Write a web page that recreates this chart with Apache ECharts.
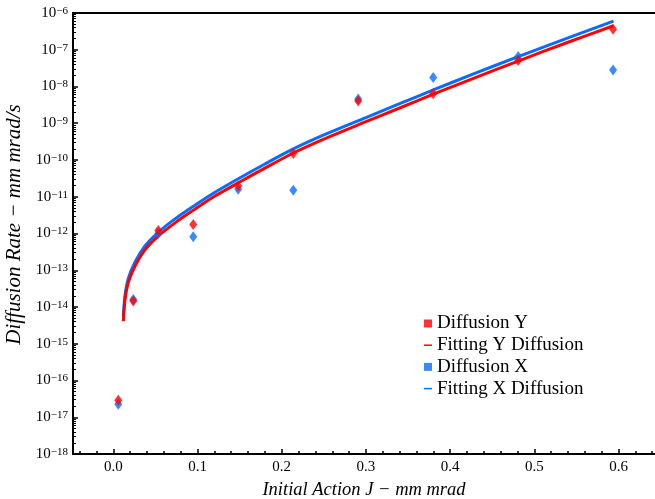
<!DOCTYPE html>
<html><head><meta charset="utf-8">
<script src="https://cdn.jsdelivr.net/npm/echarts@6/dist/echarts.min.js"></script>
<style>html,body{margin:0;padding:0;background:#fff}#c{width:655px;height:499px}</style>
</head><body><div id="c"></div>
<script>
// ---- data ----
const scatterJ   = [0.0059, 0.0237, 0.0534, 0.0949, 0.1483, 0.2137, 0.2908, 0.3799, 0.4808, 0.5935];
const diffusionY = [2.9e-17, 1.45e-14, 1.2e-12, 1.75e-12, 1.95e-11, 1.5e-10, 4.0e-9, 6.3e-9, 5.1e-8, 3.6e-7];
const diffusionX = [2.25e-17, 1.6e-14, 1.0e-12, 8.1e-13, 1.6e-11, 1.5e-11, 4.6e-9, 1.76e-8, 6.6e-8, 2.8e-8];

const fitJ     = [0.0119, 0.0139, 0.0178, 0.0258, 0.0376, 0.0534, 0.0733, 0.097, 0.1188, 0.1485, 0.18, 0.2138, 0.25, 0.30, 0.34, 0.38, 0.43, 0.48, 0.54, 0.594];
const fittingY = [4.1e-15, 1.6e-14, 4.6e-14, 1.3e-13, 3.6e-13, 8.5e-13, 1.95e-12, 4.6e-12, 9.8e-12, 2.4e-11, 6.0e-11, 1.55e-10, 3.7e-10, 1.1e-9, 2.6e-9, 6.2e-9, 1.75e-8, 4.85e-8, 1.6e-7, 4.5e-7];
const fittingX = [5.6e-15, 2.1e-14, 6.0e-14, 1.68e-13, 4.6e-13, 1.08e-12, 2.5e-12, 5.9e-12, 1.25e-11, 3.1e-11, 7.8e-11, 2.0e-10, 4.8e-10, 1.43e-9, 3.4e-9, 8.1e-9, 2.3e-8, 6.4e-8, 2.1e-7, 6.0e-7];

const xTickLabels = ['0.0', '0.1', '0.2', '0.3', '0.4', '0.5', '0.6'];
const legendNames = ['Diffusion Y', 'Fitting Y Diffusion', 'Diffusion X', 'Fitting X Diffusion'];

// ---- layout ----
const W = 655;
const FONT = 'Liberation Serif';
const RED = '#ff0000', BLUE = '#0a6cff';
const gridLeft = 73, gridRight = 0, gridTop = 13, gridBottom = 45;
const xMin = -0.0479, xMax = 0.6433;
const pxPer = (W - gridLeft - gridRight) / (xMax - xMin);
const px = j => gridLeft + (j - xMin) * pxPer;
const legendTop = 314, legendRow = 21.7, legendText = 19;

const pairs = (xs, ys) => xs.map((x, i) => [x, ys[i]]);
const gridBox = (l, r) => ({left: l, right: r, top: gridTop, bottom: gridBottom, outerBoundsMode: 'none', containLabel: false});

const chart = echarts.init(document.getElementById('c'), null, {renderer: 'canvas'});
const option = {
  animation: false,
  backgroundColor: '#fff',
  grid: [
    gridBox(gridLeft, gridRight),
    gridBox(px(0), W - px(0.6)),
    gridBox(px(-0.04), W - px(0.64))
  ],
  legend: [
    {orient: 'vertical', left: 424, top: legendTop, padding: 0,
     itemGap: 2 * legendRow - legendText, itemWidth: 8, itemHeight: 8, icon: 'rect',
     textStyle: {fontFamily: FONT, fontSize: legendText, lineHeight: legendText, color: '#000'},
     data: [legendNames[0], legendNames[2]]},
    {orient: 'vertical', left: 424, top: legendTop + legendRow, padding: 0,
     itemGap: 2 * legendRow - legendText, itemWidth: 8, itemHeight: 1.5, icon: 'rect',
     textStyle: {fontFamily: FONT, fontSize: legendText, lineHeight: legendText, color: '#000'},
     data: [legendNames[1], legendNames[3]]}
  ],
  xAxis: [
    {gridIndex: 0, type: 'value', min: xMin, max: xMax, position: 'bottom',
     axisLine: {onZero: false, lineStyle: {color: '#000', width: 2}},
     axisTick: {show: false}, axisLabel: {show: false}, splitLine: {show: false},
     name: 'Initial Action J \u2212 mm mrad', nameLocation: 'middle', nameGap: 27,
     nameTextStyle: {fontFamily: FONT, fontSize: 18.5, fontStyle: 'italic', color: '#000'}},
    {gridIndex: 0, type: 'value', min: xMin, max: xMax, position: 'top',
     axisLine: {onZero: false, lineStyle: {color: '#000', width: 2}},
     axisTick: {show: false}, axisLabel: {show: false}, splitLine: {show: false}},
    {gridIndex: 1, type: 'value', min: 0, max: 0.6, interval: 0.1, position: 'bottom',
     axisLine: {show: false, onZero: false},
     axisTick: {inside: true, length: 5, lineStyle: {color: '#000', width: 1.5}},
     axisLabel: {fontFamily: FONT, fontSize: 15, color: '#000', margin: 6,
                 formatter: v => xTickLabels[Math.round(v * 10)]},
     splitLine: {show: false}},
    {gridIndex: 2, type: 'value', min: -0.04, max: 0.64, interval: 0.02, position: 'bottom',
     axisLine: {show: false, onZero: false},
     axisTick: {inside: true, length: 3, lineStyle: {color: '#000', width: 1.5}},
     axisLabel: {show: false}, splitLine: {show: false}}
  ],
  yAxis: [
    {gridIndex: 0, type: 'log', logBase: 10, min: 1e-18, max: 1e-6, interval: 1, splitNumber: 12,
     position: 'left',
     axisLine: {show: true, onZero: false, lineStyle: {color: '#000', width: 2}},
     axisTick: {inside: true, length: 5, lineStyle: {color: '#000', width: 1.5}},
     minorTick: {show: true, splitNumber: 9, length: 3, lineStyle: {color: '#000', width: 1}},
     splitLine: {show: false}, minorSplitLine: {show: false},
     axisLabel: {
       margin: 5, color: '#000',
       formatter: v => '{b|10}{s|\u2212' + Math.abs(Math.round(Math.log10(v))) + '}',
       rich: {
         b: {fontFamily: FONT, fontSize: 15, lineHeight: 15, padding: [6, 0, 0, 0], verticalAlign: 'bottom', color: '#000'},
         s: {fontFamily: FONT, fontSize: 11, lineHeight: 11, verticalAlign: 'top', color: '#000'}
       }
     },
     name: 'Diffusion Rate \u2212 mm mrad/s', nameLocation: 'middle', nameGap: 42,
     nameTextStyle: {fontFamily: FONT, fontSize: 21, fontStyle: 'italic', color: '#000', padding: [0, 0, 0, 18]}},
    {gridIndex: 1, type: 'value', show: false},
    {gridIndex: 2, type: 'value', show: false}
  ],
  series: [
    {name: 'Fitting X Diffusion', type: 'line', xAxisIndex: 0, yAxisIndex: 0,
     data: pairs(fitJ, fittingX), symbol: 'none', smooth: 0.3, color: BLUE,
     lineStyle: {color: BLUE, width: 3}, z: 2},
    {name: 'Fitting Y Diffusion', type: 'line', xAxisIndex: 0, yAxisIndex: 0,
     data: pairs(fitJ, fittingY), symbol: 'none', smooth: 0.3, color: RED,
     lineStyle: {color: RED, width: 3}, z: 2},
    {name: 'Diffusion X', type: 'scatter', xAxisIndex: 0, yAxisIndex: 0,
     data: pairs(scatterJ, diffusionX), symbol: 'diamond', symbolSize: [8, 11],
     itemStyle: {color: BLUE}, z: 3},
    {name: 'Diffusion Y', type: 'scatter', xAxisIndex: 0, yAxisIndex: 0,
     data: pairs(scatterJ, diffusionY), symbol: 'diamond', symbolSize: [8, 11],
     itemStyle: {color: RED}, z: 4}
  ]
};
chart.setOption(option);
</script>
</body></html>
